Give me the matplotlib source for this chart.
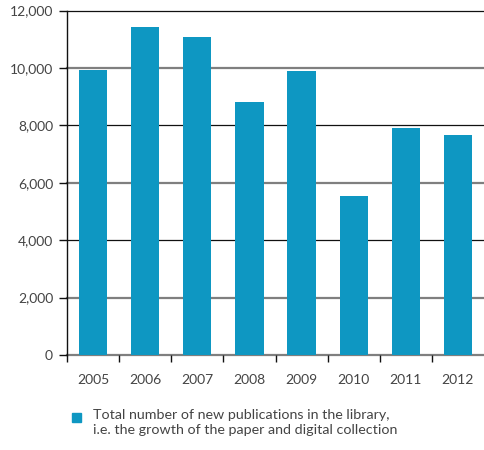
import matplotlib.pyplot as plt
from matplotlib.patches import Rectangle

plt.rcParams['font.family'] = ['Lato', 'DejaVu Sans']

# data
years = ['2005', '2006', '2007', '2008', '2009', '2010', '2011', '2012']
publications = [9930, 11440, 11090, 8820, 9900, 5550, 7920, 7670]
y_ticks = [0, 2000, 4000, 6000, 8000, 10000, 12000]

bar_color = '#0e97c2'
text_color = '#444444'

fig = plt.figure(figsize=(4.84, 4.5), dpi=100)
ax = fig.add_axes([67 / 484, 1 - 355 / 450, 1 - 67 / 484, (355 - 10.5) / 450])

x = range(len(years))
ax.bar(x, publications, width=0.54, color=bar_color, zorder=3)

# gridlines: black at multiples of 4000, grey otherwise
for v in y_ticks:
    if v > 0 and v % 4000 == 0:
        ax.axhline(v, color='#111111', lw=0.9, zorder=1, clip_on=False)
    else:
        ax.axhline(v, color='#7f7f7f', lw=1.6, zorder=1, clip_on=False)

ax.set_xlim(-0.5, 7.5)
ax.set_ylim(0, 12000)
ax.set_yticks(y_ticks)
ax.set_yticklabels([f'{v:,}' for v in y_ticks], color=text_color, fontsize=10)
ax.set_xticks(list(x))
ax.set_xticklabels(years, color=text_color, fontsize=10)
ax.tick_params(axis='x', length=0, pad=14)
ax.tick_params(axis='y', length=6, width=1, color='#111111', pad=4)

# category separators on x axis
ax.set_xticks([i - 0.5 for i in range(len(years))], minor=True)
ax.tick_params(axis='x', which='minor', length=5, width=1, color='#111111')

for s in ['top', 'right', 'bottom']:
    ax.spines[s].set_visible(False)
ax.spines['left'].set_color('#111111')
ax.spines['left'].set_linewidth(1)

# legend
fig.add_artist(Rectangle((72 / 484, 1 - 422 / 450), 9 / 484, 9 / 450,
                         transform=fig.transFigure, color=bar_color))
fig.text(93 / 484, 1 - 409 / 450,
         'Total number of new publications in the library,\n'
         'i.e. the growth of the paper and digital collection',
         va='top', ha='left', fontsize=10.3, color=text_color, linespacing=1.35)

plt.savefig('out.png', dpi=100)
